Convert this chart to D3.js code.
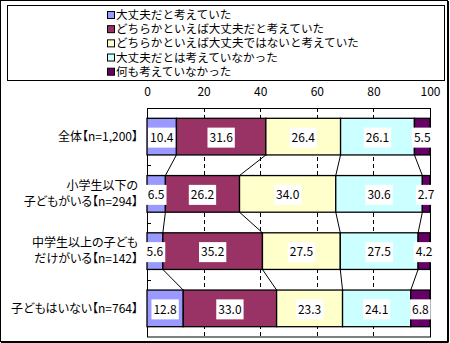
<!DOCTYPE html>
<html><head><meta charset="utf-8">
<script src="https://cdn.jsdelivr.net/npm/d3@7"></script>
<style>
html,body{margin:0;padding:0;background:#fff;}
svg{display:block;}
text{font-family:"Noto Sans CJK JP","Noto Sans",sans-serif;}
.cat{font-feature-settings:"palt" 1;}
</style></head>
<body>
<svg id="chart" width="450" height="343"></svg>
<script>
const categories = ["全体【n=1,200】", "小学生以下の\n子どもがいる【n=294】", "中学生以上の子ども\nだけがいる【n=142】", "子どもはいない【n=764】"];
const seriesNames = ["大丈夫だと考えていた", "どちらかといえば大丈夫だと考えていた", "どちらかといえば大丈夫ではないと考えていた", "大丈夫だとは考えていなかった", "何も考えていなかった"];
const s1 = [10.4, 6.5, 5.6, 12.8];
const s2 = [31.6, 26.2, 35.2, 33.0];
const s3 = [26.4, 34.0, 27.5, 23.3];
const s4 = [26.1, 30.6, 27.5, 24.1];
const s5 = [5.5, 2.7, 4.2, 6.8];
const colors = ["#9999FF", "#993366", "#FFFFCC", "#CCFFFF", "#660066"];
const tickValues = [0, 20, 40, 60, 80, 100];

const series = [s1, s2, s3, s4, s5];
const svg = d3.select("#chart");

// outer frame
svg.append("rect").attr("x", 0.5).attr("y", 0.5).attr("width", 447).attr("height", 341)
  .attr("fill", "#fff").attr("stroke", "#000").attr("stroke-width", 1);
svg.append("line").attr("x1", 448.5).attr("x2", 448.5).attr("y1", 1).attr("y2", 342).attr("stroke", "#000");
svg.append("line").attr("x1", 1).attr("x2", 448.5).attr("y1", 342.5).attr("y2", 342.5).attr("stroke", "#000");

// legend
svg.append("rect").attr("x", 7.5).attr("y", 5.5).attr("width", 437).attr("height", 75)
  .attr("fill", "#fff").attr("stroke", "#000");
const legY = d3.scalePoint().domain(d3.range(seriesNames.length)).range([15, 71.7]);
const leg = svg.append("g").selectAll("g").data(seriesNames).join("g")
  .attr("transform", (d, i) => `translate(0,${legY(i)})`);
leg.append("rect").attr("x", 107.5).attr("y", -3.5).attr("width", 7).attr("height", 7)
  .attr("fill", (d, i) => colors[i]).attr("stroke", "#000");
leg.append("text").attr("x", 116).attr("dy", "0.35em").attr("font-size", 11.6).text(d => d);

// scales
const x = d3.scaleLinear().domain([0, 100]).range([147, 430]);
const y = d3.scaleBand().domain(d3.range(categories.length)).range([108, 337])
  .paddingInner(0.36).paddingOuter(0.18);

// gridlines
const grid = svg.append("g");
grid.selectAll("line").data(tickValues.filter(v => v > 0 && v < 100)).join("line")
  .attr("x1", d => Math.round(x(d)) + 0.5).attr("x2", d => Math.round(x(d)) + 0.5)
  .attr("y1", 108).attr("y2", 337)
  .attr("stroke", "#000").attr("stroke-dasharray", "4,3");

// top axis labels
const axis = svg.append("g").attr("transform", "translate(0,96)")
  .call(d3.axisTop(x).tickValues(tickValues).tickSize(0).tickPadding(0));
axis.select(".domain").remove();
axis.selectAll("text").attr("font-size", 12).attr("font-family", "'Liberation Sans',Arial,sans-serif").attr("fill", "#000");

// plot border
svg.append("rect").attr("x", 147.5).attr("y", 108.5).attr("width", 283).attr("height", 228.5)
  .attr("fill", "none").attr("stroke", "#000");

// left category ticks
const step = y.step();
svg.append("g").selectAll("line").data(d3.range(1, categories.length)).join("line")
  .attr("x1", 147).attr("x2", 151)
  .attr("y1", d => Math.round(108 + step * d) + 0.5).attr("y2", d => Math.round(108 + step * d) + 0.5)
  .attr("stroke", "#000");

// stacked data
const rows = categories.map((c, i) => {
  let acc = 0;
  return series.map((s, k) => { const v = s[i]; const seg = {k, i, v, x0: acc, x1: acc + v}; acc += v; return seg; });
});

// series lines
const lines = [];
for (let i = 0; i < rows.length - 1; i++) {
  for (let k = 0; k < series.length - 1; k++) {
    lines.push({a: rows[i][k].x1, b: rows[i + 1][k].x1, i});
  }
}
svg.append("g").selectAll("line").data(lines).join("line")
  .attr("x1", d => x(d.a)).attr("x2", d => x(d.b))
  .attr("y1", d => y(d.i) + y.bandwidth()).attr("y2", d => y(d.i + 1))
  .attr("stroke", "#000").attr("stroke-width", 1);

// bars
const barG = svg.append("g");
rows.forEach(r => {
  barG.selectAll(null).data(r).join("rect")
    .attr("x", d => x(d.x0)).attr("width", d => x(d.x1) - x(d.x0))
    .attr("y", d => y(d.i)).attr("height", y.bandwidth())
    .attr("fill", d => colors[d.k]).attr("stroke", "#000").attr("stroke-width", 1.3);
});

// data labels
const labG = svg.append("g");
rows.forEach(r => {
  r.forEach(d => {
    const cx = x((d.x0 + d.x1) / 2);
    const cy = y(d.i) + y.bandwidth() / 2 + 1;
    const g = labG.append("g").attr("transform", `translate(${cx},${cy})`);
    const t = g.append("text").attr("text-anchor", "middle").attr("dy", "0.36em")
      .attr("font-size", 12).attr("font-family", "'Liberation Sans',Arial,sans-serif")
      .text(d.v.toFixed(1));
    const w = t.node().getComputedTextLength();
    g.insert("rect", "text").attr("x", -w / 2 - 2).attr("y", -10).attr("width", w + 4).attr("height", 20)
      .attr("fill", "#fff");
  });
});

// category labels
const catG = svg.append("g");
categories.forEach((c, i) => {
  const linesTxt = c.split("\n");
  const cy = y(i) + y.bandwidth() / 2;
  const t = catG.append("text").attr("class", "cat").attr("x", 138).attr("text-anchor", "end").attr("font-size", 12).attr("fill", "#000");
  linesTxt.forEach((ln, j) => {
    t.append("tspan").attr("x", 138)
      .attr("y", cy + (j - (linesTxt.length - 1) / 2) * 16)
      .attr("dy", "0.36em").text(ln);
  });
});
</script>
</body></html>
